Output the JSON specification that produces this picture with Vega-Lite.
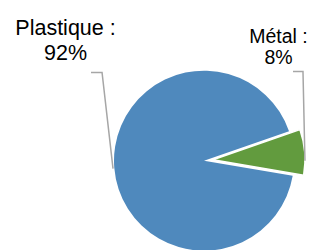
{
  "$schema": "https://vega.github.io/schema/vega-lite/v6.json",
  "width": 310,
  "height": 250,
  "autosize": {"type": "fit", "contains": "padding"},
  "padding": 0,
  "background": "white",
  "config": {"view": {"stroke": null}},
  "datasets": {
    "slices": [
      {"material": "Métal", "pct": 8},
      {"material": "Plastique", "pct": 92}
    ],
    "leaders": [
      {"material": "Plastique", "ord": 1, "lx": -1.256, "ly": 0.989},
      {"material": "Plastique", "ord": 2, "lx": -1.133, "ly": 0.989},
      {"material": "Plastique", "ord": 3, "lx": -1.011, "ly": -0.089},
      {"material": "Métal", "ord": 1, "lx": 0.989, "ly": 1.0},
      {"material": "Métal", "ord": 2, "lx": 1.1, "ly": 1.0},
      {"material": "Métal", "ord": 3, "lx": 1.122, "ly": 0.0}
    ],
    "labels": [
      {"material": "Plastique", "text": "Plastique :\n92%", "lx": -1.539, "ly": 1.41},
      {"material": "Métal", "text": "Métal :\n8%", "lx": 0.828, "ly": 1.322}
    ]
  },
  "layer": [
    {
      "data": {"name": "slices"},
      "transform": [
        {"stack": "pct", "groupby": [], "as": ["p0", "p1"]},
        {"filter": "datum.material === 'Plastique'"}
      ],
      "mark": {"type": "arc", "radius": 90, "color": "#4F89BD"},
      "encoding": {
        "theta": {"field": "p0", "type": "quantitative", "scale": {"domain": [0, 100], "range": [1.2375, 7.5207]}},
        "theta2": {"field": "p1"},
        "x": {"datum": 0, "type": "quantitative", "scale": {"domain": [-2.267, 1.178], "nice": false, "zero": false}, "axis": null},
        "y": {"datum": 0, "type": "quantitative", "scale": {"domain": [-0.978, 1.8], "nice": false, "zero": false}, "axis": null}
      }
    },
    {
      "data": {"name": "slices"},
      "transform": [
        {"stack": "pct", "groupby": [], "as": ["p0", "p1"]},
        {"filter": "datum.material === 'Métal'"}
      ],
      "mark": {"type": "arc", "radius": 92, "color": "#629B3E", "stroke": "white", "strokeWidth": 1.5, "xOffset": 9, "yOffset": -1},
      "encoding": {
        "theta": {"field": "p0", "type": "quantitative", "scale": {"domain": [0, 100], "range": [1.2375, 7.5207]}},
        "theta2": {"field": "p1"},
        "x": {"datum": 0, "type": "quantitative", "scale": {"domain": [-2.267, 1.178], "nice": false, "zero": false}, "axis": null},
        "y": {"datum": 0, "type": "quantitative", "scale": {"domain": [-0.978, 1.8], "nice": false, "zero": false}, "axis": null}
      }
    },
    {
      "data": {"name": "leaders"},
      "mark": {"type": "line", "color": "#A6A6A6", "strokeWidth": 1.5},
      "encoding": {
        "x": {"field": "lx", "type": "quantitative", "scale": {"domain": [-2.267, 1.178], "nice": false, "zero": false}, "axis": null},
        "y": {"field": "ly", "type": "quantitative", "scale": {"domain": [-0.978, 1.8], "nice": false, "zero": false}, "axis": null},
        "detail": {"field": "material"},
        "order": {"field": "ord", "type": "quantitative"}
      }
    },
    {
      "data": {"name": "labels"},
      "transform": [{"filter": "datum.material === 'Plastique'"}],
      "mark": {"type": "text", "align": "center", "baseline": "alphabetic", "lineBreak": "\n", "font": "Liberation Sans", "fontSize": 21.5, "lineHeight": 25.6, "color": "#000000"},
      "encoding": {
        "text": {"field": "text"},
        "x": {"field": "lx", "type": "quantitative", "scale": {"domain": [-2.267, 1.178], "nice": false, "zero": false}, "axis": null},
        "y": {"field": "ly", "type": "quantitative", "scale": {"domain": [-0.978, 1.8], "nice": false, "zero": false}, "axis": null}
      }
    },
    {
      "data": {"name": "labels"},
      "transform": [{"filter": "datum.material === 'Métal'"}],
      "mark": {"type": "text", "align": "center", "baseline": "alphabetic", "lineBreak": "\n", "font": "Liberation Sans", "fontSize": 19.5, "lineHeight": 21, "color": "#000000"},
      "encoding": {
        "text": {"field": "text"},
        "x": {"field": "lx", "type": "quantitative", "scale": {"domain": [-2.267, 1.178], "nice": false, "zero": false}, "axis": null},
        "y": {"field": "ly", "type": "quantitative", "scale": {"domain": [-0.978, 1.8], "nice": false, "zero": false}, "axis": null}
      }
    }
  ]
}
